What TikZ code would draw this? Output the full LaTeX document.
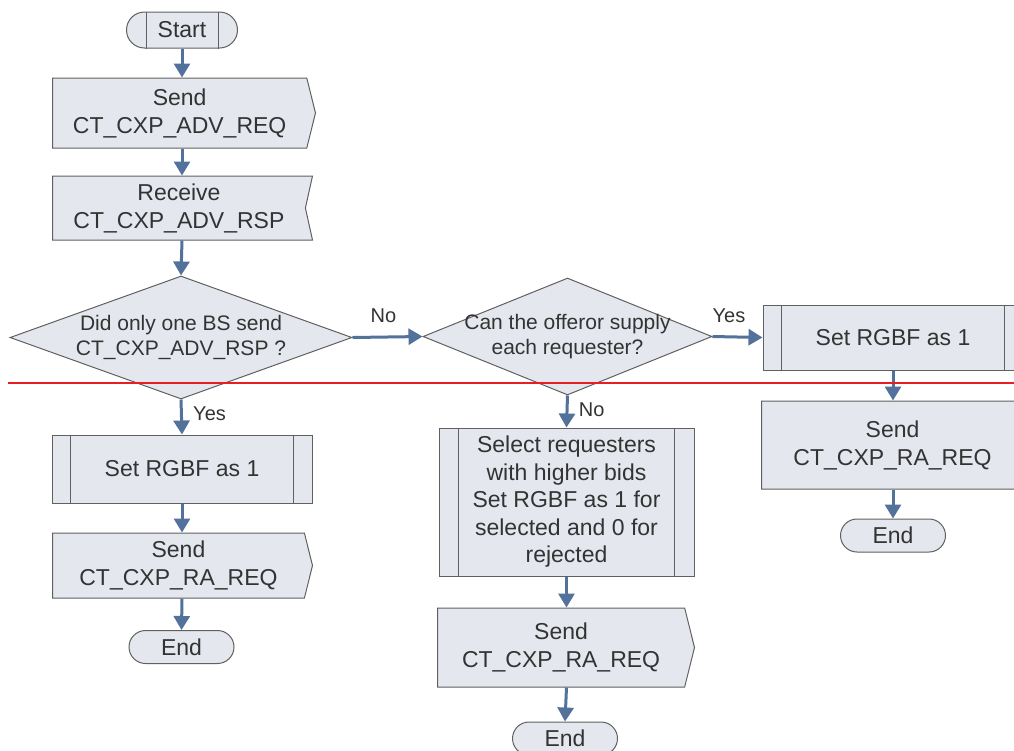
\documentclass[tikz,border=0pt]{standalone}
\usepackage{fontspec}
\setmainfont{Liberation Sans}
\usetikzlibrary{arrows.meta,shapes.geometric,shapes.misc,shapes.symbols}
\definecolor{boxfill}{RGB}{228,231,238}
\definecolor{boxline}{RGB}{96,96,96}
\definecolor{flowblue}{RGB}{83,114,155}
\definecolor{cutred}{RGB}{232,30,36}
\definecolor{txtgray}{RGB}{51,51,51}

\begin{document}
\begin{tikzpicture}[x=1pt, y=-1pt,
    every node/.style={text=txtgray, font=\fontsize{23}{28}\selectfont},
    box/.style={draw=boxline, fill=boxfill, line width=1pt, inner sep=0pt, align=center},
    proc/.style={box, rectangle},
    sendbox/.style={box, signal, signal to=east, signal pointer angle=152, anchor=west},
    recvbox/.style={box, signal, signal to=nowhere, signal from=east, signal pointer angle=155, anchor=west},
    term/.style={box, rounded rectangle, minimum width=105, minimum height=33},
    test/.style={box, diamond, inner xsep=-20pt, font=\fontsize{21}{25}\selectfont},
    flow/.style={draw=flowblue, line width=3pt, -{Triangle[width=16pt,length=14pt]}},
    lbl/.style={font=\fontsize{20}{24}\selectfont}]
    \useasboundingbox (0,0) rectangle (1014,750);
    % left column
    \node[term, minimum width=111, minimum height=36] (start) at (182,30) {Start};
    \node[sendbox, minimum width=263, minimum height=70] (sendadv) at (52,113) {Send\\CT\_CXP\_ADV\_REQ};
    \node[recvbox, minimum width=260, minimum height=64] (rcvadv) at (52,208) {Receive\\CT\_CXP\_ADV\_RSP};
    \node[test, aspect=2.78, minimum width=342, minimum height=123] (onebs) at (181,337.5) {Did only one BS send\\CT\_CXP\_ADV\_RSP ?};
    \node[proc, minimum width=260, minimum height=68] (rgbfleft) at (182,469) {Set RGBF as 1};
    \node[sendbox, minimum width=260, minimum height=65] (raleft) at (52,565.5) {Send\\CT\_CXP\_RA\_REQ};
    \node[term] (endleft) at (181.5,647) {End};
    % middle column
    \node[test, aspect=2.47, minimum width=289, minimum height=117] (supply) at (567.5,336.5) {Can the offeror supply\\each requester?};
    \node[proc, minimum width=255, minimum height=148, font=\fontsize{23}{27.5}\selectfont] (select) at (566.5,502)
        {Select requesters\\with higher bids\\Set RGBF as 1 for\\selected and 0 for\\rejected};
    \node[sendbox, minimum width=257, minimum height=79] (ramid) at (437,647.5) {Send\\CT\_CXP\_RA\_REQ};
    \node[term] (endmid) at (565,738.5) {End};
    % right column
    \node[proc, minimum width=260, minimum height=65] (rgbfright) at (893,337.5) {Set RGBF as 1};
    \node[sendbox, minimum width=273, minimum height=88] (raright) at (761,445) {Send\\CT\_CXP\_RA\_REQ};
    \node[term] (endright) at (893,535.5) {End};

    % inner bars
    \draw[boxline, line width=1pt] ([xshift=-36pt]start.north) -- ([xshift=-36pt]start.south);
    \draw[boxline, line width=1pt] ([xshift=36pt]start.north) -- ([xshift=36pt]start.south);
    \foreach \n/\d in {rgbfleft/19, rgbfright/19, select/20} {
        \draw[boxline, line width=1pt] ([xshift=\d pt]\n.north west) -- ([xshift=\d pt]\n.south west);
        \draw[boxline, line width=1pt] ([xshift=-\d pt]\n.north east) -- ([xshift=-\d pt]\n.south east);
    }

    % connectors
    \draw[flow] (start.south) -- (start.south |- sendadv.north);
    \draw[flow] (rgbfleft.north |- sendadv.south) -- (rgbfleft.north |- rcvadv.north);
    \draw[flow] (rgbfleft.north |- rcvadv.south) -- (onebs.north);
    \draw[flow] (onebs.east) -- (supply.west) node[lbl, midway, above=9pt, xshift=-4pt] {No};
    \draw[flow] (supply.east) -- (rgbfright.west) node[lbl, pos=0.33, above=9pt] {Yes};
    \draw[flow] (onebs.south) -- (rgbfleft.north) node[lbl, pos=0.4, right=7pt] {Yes};
    \draw[flow] (supply.south) -- (select.north) node[lbl, pos=0.45, right=7pt] {No};
    \draw[flow] (rgbfleft.south) -- (rgbfleft.south |- raleft.north);
    \draw[flow] (rgbfleft.south |- raleft.south) -- (endleft.north);
    \draw[flow] (select.south) -- (select.south |- ramid.north);
    \draw[flow] (select.south |- ramid.south) -- (endmid.north);
    \draw[flow] (rgbfright.south) -- (rgbfright.south |- raright.north);
    \draw[flow] (rgbfright.south |- raright.south) -- (endright.north);

    % cut line
    \draw[cutred, line width=2pt] (8,383) -- (1014,383);
\end{tikzpicture}
\end{document}
